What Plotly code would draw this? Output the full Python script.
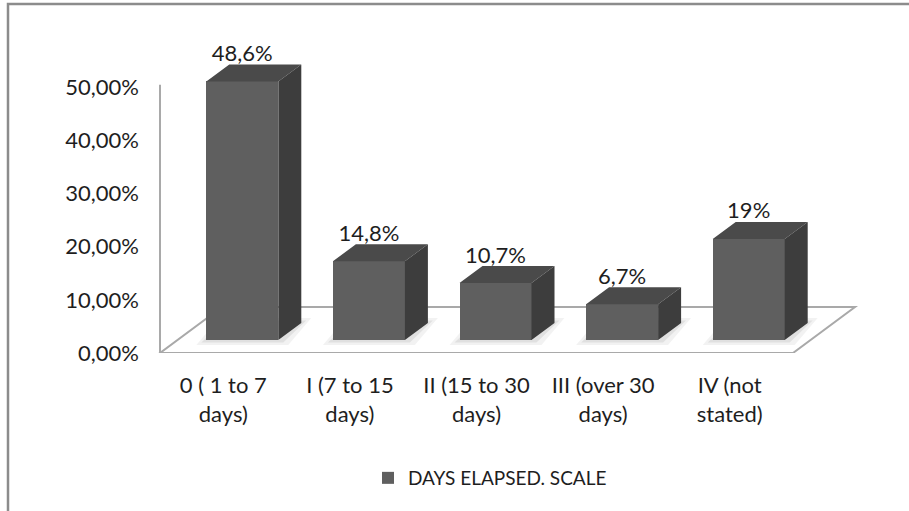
import plotly.graph_objects as go

# ---- data ----
categories = ["0 ( 1 to 7<br>days)", "I (7 to 15<br>days)", "II (15 to 30<br>days)",
              "III (over 30<br>days)", "IV (not<br>stated)"]
values = [48.6, 14.8, 10.7, 6.7, 19]
y_ticks = [0, 10, 20, 30, 40, 50]
y_tick_labels = ["0,00%", "10,00%", "20,00%", "30,00%", "40,00%", "50,00%"]
series_name = "DAYS ELAPSED. SCALE"


def pct_label(v):
    if float(v).is_integer():
        return f"{int(v)}%"
    return f"{v:.1f}".replace(".", ",") + "%"


# ---- layout geometry ----
W, H = 909, 511
PX_X = 126.6          # pixels per category slot
PX_Y = 5.32           # pixels per percentage point
ML, MR, MT, MB = 140, 27, 40, 158
plot_w = W - ML - MR
plot_h = H - MT - MB
x_start = -0.5 - 20 / PX_X
x_range = [x_start, x_start + plot_w / PX_X]
y_range = [0, plot_h / PX_Y]

# pseudo-3D offsets (in data units)
sx, sy = 19 / PX_X, 13 / PX_Y      # bar front plane behind floor front edge
bw = 72 / PX_X                     # bar width
dx, dy = 23 / PX_X, 17 / PX_Y      # bar depth
fdx, fdy = 62 / PX_X, 46 / PX_Y    # floor depth
lab_gap = 9 / PX_Y                 # value label centre above back top edge

FONT = "Lato, 'Open Sans', Arial, sans-serif"
TXT = "#1e1e1e"
AX_SIZE = 22
LEG_SIZE = 19
FRONT, TOP, SIDE = "#5f5f5f", "#4a4a4a", "#3d3d3d"

n = len(values)
xc = [i + sx for i in range(n)]

fig = go.Figure()

# front faces
fig.add_trace(go.Bar(
    x=xc, y=values, base=sy, width=bw, name=series_name,
    marker=dict(color=FRONT, line=dict(width=0)),
    showlegend=True, hoverinfo="skip",
))

# top and side faces
tx, ty, qx, qy = [], [], [], []
for c, v in zip(xc, values):
    l, r, t = c - bw / 2, c + bw / 2, sy + v
    tx += [l, r, r + dx, l + dx, l, None]
    ty += [t, t, t + dy, t + dy, t, None]
    qx += [r, r + dx, r + dx, r, r, None]
    qy += [sy, sy + dy, t + dy, t, sy, None]
fig.add_trace(go.Scatter(x=tx, y=ty, fill="toself", fillcolor=TOP, mode="lines",
                         line=dict(width=0, color=TOP), showlegend=False, hoverinfo="skip"))
fig.add_trace(go.Scatter(x=qx, y=qy, fill="toself", fillcolor=SIDE, mode="lines",
                         line=dict(width=0, color=SIDE), showlegend=False, hoverinfo="skip"))

# value labels
fig.add_trace(go.Scatter(
    x=xc, y=[sy + v + dy + lab_gap for v in values], mode="text",
    text=[pct_label(v) for v in values], textposition="middle center",
    textfont=dict(family=FONT, size=AX_SIZE, color=TXT),
    cliponaxis=False, showlegend=False, hoverinfo="skip",
))

shapes = []
# floor
fl, fr = -0.5, n - 0.5
shapes.append(dict(
    type="path", xref="x", yref="y", layer="below",
    path=f"M{fl},0 L{fr},0 L{fr + fdx},{fdy} L{fl + fdx},{fdy} Z",
    fillcolor="white", line=dict(color="#a9a9a9", width=2),
))
# soft shadows around bar footprints
for grow, alpha in [(10, 0.05), (5, 0.07)]:
    gx, gy = grow / PX_X, grow / PX_Y * 0.5
    for c in xc:
        l, r = c - bw / 2 - gx, c + bw / 2 + gx
        b0, b1 = sy - gy, sy + dy + gy
        shapes.append(dict(
            type="path", xref="x", yref="y", layer="below",
            path=f"M{l},{b0} L{r},{b0} L{r + dx},{b1} L{l + dx},{b1} Z",
            fillcolor=f"rgba(0,0,0,{alpha})", line=dict(width=0),
        ))
# value axis line
shapes.append(dict(type="line", xref="x", yref="y", layer="below",
                   x0=fl, x1=fl, y0=0, y1=max(y_ticks) + 0.4,
                   line=dict(color="#a9a9a9", width=2)))
# outer frame
shapes.append(dict(type="rect", xref="paper", yref="paper", layer="above",
                   x0=(8 - ML) / plot_w, x1=1.3, y0=-0.8, y1=(H - MB - 4) / plot_h,
                   line=dict(color="#8c8c8c", width=2.5), fillcolor="rgba(0,0,0,0)"))

fig.update_layout(
    width=W, height=H,
    margin=dict(l=ML, r=MR, t=MT, b=MB),
    paper_bgcolor="white", plot_bgcolor="rgba(0,0,0,0)",
    font=dict(family=FONT, size=AX_SIZE, color=TXT),
    shapes=shapes,
    bargap=0,
    showlegend=True,
    legend=dict(orientation="h", x=(490 - ML) / plot_w, xanchor="center",
                y=(H - MB - 478) / plot_h, yanchor="middle",
                font=dict(family=FONT, size=LEG_SIZE, color=TXT),
                bgcolor="rgba(0,0,0,0)"),
    xaxis=dict(range=x_range, tickvals=list(range(n)), ticktext=categories,
               showgrid=False, zeroline=False, showline=False, ticks="",
               ticklabelstandoff=17, tickfont=dict(family=FONT, size=AX_SIZE, color=TXT),
               fixedrange=True),
    yaxis=dict(range=y_range, tickvals=y_ticks, ticktext=y_tick_labels,
               showgrid=False, zeroline=False, showline=False, ticks="",
               ticklabelstandoff=0, tickfont=dict(family=FONT, size=AX_SIZE, color=TXT),
               fixedrange=True),
)

fig.write_html("out.html")
